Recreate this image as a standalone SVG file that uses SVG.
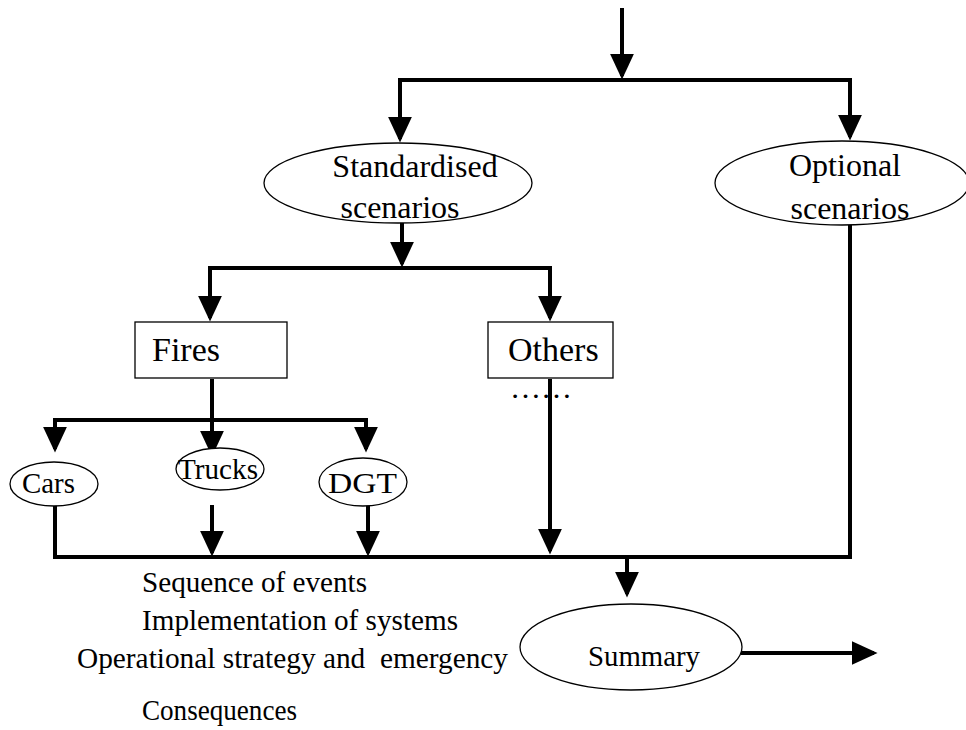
<svg xmlns="http://www.w3.org/2000/svg" width="966" height="730" viewBox="0 0 966 730">
<style>
.c{fill:none;stroke:#000;stroke-width:4;stroke-linecap:square}
.a{marker-end:url(#ah)}
.n{fill:#fff;stroke:#000;stroke-width:1.3}
text{font-family:"Liberation Serif","Times New Roman",serif;fill:#000}
.t32{font-size:32px}
.t34{font-size:34px}
.t29{font-size:29px}
.t30{font-size:30px}
</style>
<defs>
<marker id="ah" markerUnits="userSpaceOnUse" markerWidth="26" markerHeight="26" viewBox="0 0 28 26" refX="22" refY="13" orient="auto">
<path d="M0,0 L28,13 L0,26 z" fill="#000"/>
</marker>
</defs>
<rect width="966" height="730" fill="#fff"/>
<g id="connectors">
<path class="c a" d="M622,10 V74"/>
<path class="c" d="M400,80 H850"/>
<path class="c a" d="M400,80 V137"/>
<path class="c a" d="M850,80 V135"/>
<path class="c a" d="M402,225 V262"/>
<path class="c" d="M210,268 H550"/>
<path class="c a" d="M210,268 V316"/>
<path class="c a" d="M550,268 V316"/>
<path class="c a" d="M212,381 V451"/>
<path class="c" d="M55,420 H366"/>
<path class="c a" d="M55,420 V447"/>
<path class="c a" d="M366,420 V447"/>
<path class="c a" d="M550,381 V549"/>
<path class="c" d="M850,227 V557 H55 V507"/>
<path class="c a" d="M212,507 V551"/>
<path class="c a" d="M368,507 V551"/>
<path class="c a" d="M627,557 V592"/>
<path class="c a" d="M743,653 H872"/>
</g>
<g id="standardised">
<ellipse class="n" cx="398" cy="183" rx="134" ry="40"/>
<text class="t32" x="415" y="177" text-anchor="middle">Standardised</text>
<text class="t32" x="400" y="218" text-anchor="middle">scenarios</text>
</g>
<g id="optional">
<ellipse class="n" cx="842" cy="183" rx="127" ry="42"/>
<text class="t32" x="845" y="176" text-anchor="middle">Optional</text>
<text class="t32" x="850" y="219" text-anchor="middle">scenarios</text>
</g>
<g id="fires">
<rect class="n" x="135" y="322" width="152" height="56"/>
<text class="t34" x="152" y="361">Fires</text>
</g>
<g id="others">
<rect class="n" x="488" y="322" width="125" height="56"/>
<text class="t34" x="508" y="361">Others</text>
<text class="t29" x="510" y="398" textLength="62" lengthAdjust="spacingAndGlyphs">……</text>
</g>
<g id="cars">
<ellipse class="n" cx="54" cy="484" rx="44" ry="22"/>
<text class="t29" x="22" y="493" textLength="53" lengthAdjust="spacingAndGlyphs">Cars</text>
</g>
<g id="trucks">
<ellipse class="n" cx="220" cy="469" rx="44" ry="21"/>
<text class="t29" x="178" y="479" textLength="80" lengthAdjust="spacingAndGlyphs">Trucks</text>
</g>
<g id="dgt">
<ellipse class="n" cx="363" cy="482" rx="44" ry="24"/>
<text class="t29" x="328" y="493" textLength="69" lengthAdjust="spacingAndGlyphs">DGT</text>
</g>
<g id="summary">
<ellipse class="n" cx="631" cy="647" rx="111" ry="43"/>
<text class="t30" x="588" y="666" textLength="112" lengthAdjust="spacingAndGlyphs">Summary</text>
</g>
<g id="notes">
<text class="t30" x="142" y="592" textLength="225" lengthAdjust="spacingAndGlyphs">Sequence of events</text>
<text class="t30" x="142" y="630" textLength="316" lengthAdjust="spacingAndGlyphs">Implementation of systems</text>
<text class="t30" x="77" y="668" textLength="431" lengthAdjust="spacingAndGlyphs" xml:space="preserve">Operational strategy and  emergency</text>
<text class="t30" x="142" y="720" textLength="155" lengthAdjust="spacingAndGlyphs">Consequences</text>
</g>
</svg>
